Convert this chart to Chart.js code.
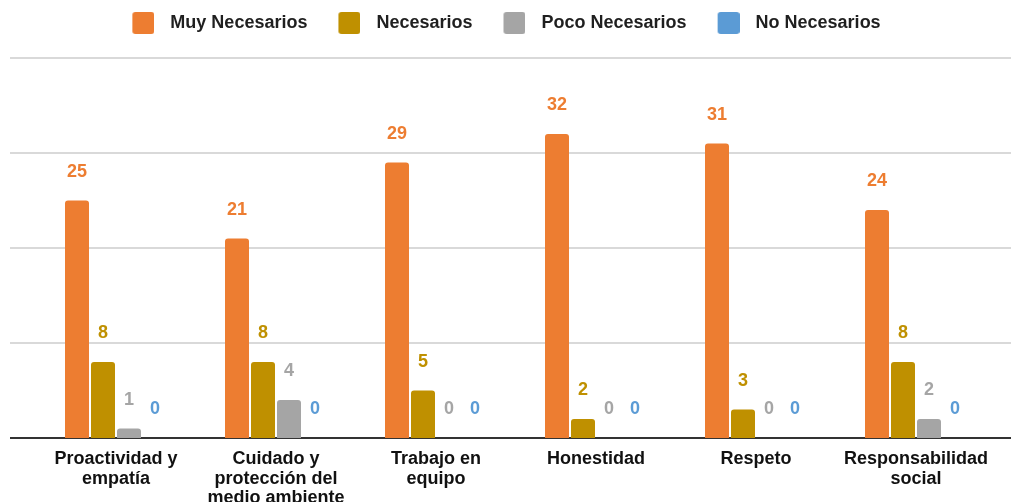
<!DOCTYPE html>
<html lang="es">

<head>
    <meta charset="UTF-8">
    <title>Valores</title>
    <script src="https://cdn.jsdelivr.net/npm/chart.js"></script>
    <style>
        html, body { margin: 0; padding: 0; background: #fff; }
        #wrap { width: 1011px; height: 502px; position: relative; }
    </style>
</head>

<body>
    <div id="wrap"><canvas id="myChart"></canvas></div>
    <script>
        const categories = [
            ['Proactividad y', 'empatía'],
            ['Cuidado y', 'protección del', 'medio ambiente'],
            ['Trabajo en', 'equipo'],
            ['Honestidad'],
            ['Respeto'],
            ['Responsabilidad', 'social']
        ];
        const seriesNames = ['Muy Necesarios', 'Necesarios', 'Poco Necesarios', 'No Necesarios'];
        const muyNecesarios = [25, 21, 29, 32, 31, 24];
        const necesarios = [8, 8, 5, 2, 3, 8];
        const pocoNecesarios = [1, 4, 0, 0, 0, 2];
        const noNecesarios = [0, 0, 0, 0, 0, 0];
        const yTicks = [0, 10, 20, 30, 40];

        const colors = ['#ED7D31', '#BF9000', '#A5A5A5', '#5B9BD5'];

        Chart.defaults.font.family = "'Liberation Sans', Arial, sans-serif";
        Chart.defaults.font.weight = 'bold';
        Chart.defaults.font.size = 18;
        Chart.defaults.color = '#1f1f1f';

        // legend swatch: 22x22 rounded square on the right side of a 32px image
        function swatch(color) {
            const c = document.createElement('canvas');
            c.width = 32; c.height = 22;
            const g = c.getContext('2d');
            g.fillStyle = color;
            g.beginPath();
            g.roundRect(10, 0, 22, 22, 3);
            g.fill();
            return c;
        }
        const swatches = colors.map(swatch);

        // gridlines run past the plot area, like the original
        const gridPlugin = {
            id: 'wideGrid',
            beforeDatasetsDraw(chart) {
                const { ctx, scales: { y }, chartArea } = chart;
                ctx.save();
                yTicks.forEach(v => {
                    const py = Math.round(y.getPixelForValue(v));
                    ctx.beginPath();
                    if (v === 0) {
                        ctx.strokeStyle = '#333333';
                        ctx.lineWidth = 2;
                    } else {
                        ctx.strokeStyle = '#cccccc';
                        ctx.lineWidth = 1.5;
                    }
                    ctx.moveTo(chartArea.left - 26, py);
                    ctx.lineTo(chart.width, py);
                    ctx.stroke();
                });
                ctx.restore();
            }
        };

        const valuePlugin = {
            id: 'values',
            afterDatasetsDraw(chart) {
                const { ctx } = chart;
                ctx.save();
                ctx.font = "bold 18px 'Liberation Sans', Arial, sans-serif";
                ctx.textAlign = 'center';
                ctx.textBaseline = 'alphabetic';
                chart.data.datasets.forEach((ds, i) => {
                    const meta = chart.getDatasetMeta(i);
                    ctx.fillStyle = colors[i];
                    meta.data.forEach((bar, j) => {
                        ctx.fillText(String(ds.data[j]), bar.x, bar.y - 24);
                    });
                });
                ctx.restore();
            }
        };

        const seriesData = [muyNecesarios, necesarios, pocoNecesarios, noNecesarios];

        const ctx = document.getElementById('myChart').getContext('2d');
        const chart = new Chart(ctx, {
            type: 'bar',
            data: {
                labels: categories,
                datasets: seriesNames.map((name, i) => ({
                    label: name,
                    data: seriesData[i],
                    backgroundColor: colors[i],
                    borderRadius: 3,
                    categoryPercentage: 0.65,
                    barPercentage: 0.923
                }))
            },
            options: {
                responsive: true,
                maintainAspectRatio: false,
                animation: false,
                layout: { padding: { top: 0, left: 0, right: 15, bottom: 0 } },
                plugins: {
                    tooltip: { enabled: false },
                    legend: {
                        position: 'top',
                        labels: {
                            usePointStyle: true,
                            pointStyleWidth: 46,
                            padding: 14,
                            color: '#1f1f1f',
                            font: { size: 18, weight: 'bold' },
                            generateLabels(chart) {
                                const items = Chart.defaults.plugins.legend.labels.generateLabels(chart);
                                items.forEach((it, i) => { it.pointStyle = swatches[i]; });
                                return items;
                            }
                        }
                    }
                },
                scales: {
                    x: {
                        grid: { display: false },
                        border: { display: false },
                        ticks: {
                            color: '#111',
                            padding: 3,
                            maxRotation: 0,
                            autoSkip: false,
                            font: { size: 18, weight: 'bold', lineHeight: 1.1 }
                        },
                        afterFit(s) { s.height = 64; }
                    },
                    x2: {
                        axis: 'x',
                        position: 'top',
                        display: true,
                        grid: { display: false },
                        border: { display: false },
                        ticks: { display: false },
                        afterFit(s) { s.height = 16; }
                    },
                    y: {
                        min: 0,
                        max: 40,
                        ticks: { display: false, stepSize: 10 },
                        grid: { display: false },
                        border: { display: false },
                        afterFit(s) { s.width = 36; }
                    }
                }
            },
            plugins: [gridPlugin, valuePlugin]
        });
    </script>
</body>

</html>
